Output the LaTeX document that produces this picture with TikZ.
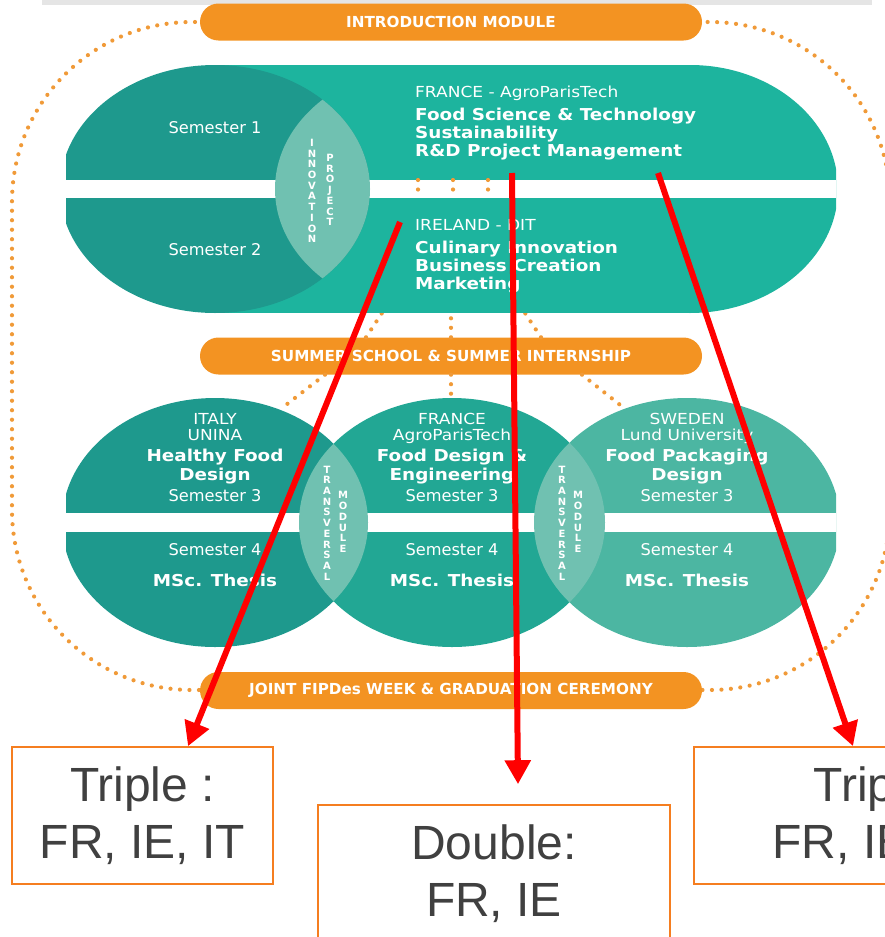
\documentclass[tikz,border=0pt]{standalone}
\usepackage{fontspec}
\setsansfont{DejaVu Sans}
\newfontfamily\widesans{DejaVu Sans}[FakeStretch=1.12]
\newfontfamily\boxfont{Liberation Sans}
\usepackage{tikz}
\usetikzlibrary{arrows.meta, positioning, calc}
\usepackage{xcolor}
\definecolor{pillorange}{HTML}{F39322}
\definecolor{dotorange}{HTML}{F09A38}
\definecolor{tealdark}{HTML}{1E998D}
\definecolor{tealmid}{HTML}{22A794}
\definecolor{teallight}{HTML}{1DB49E}
\definecolor{tealpale}{HTML}{4CB6A2}
\definecolor{lensteal}{HTML}{70C1B1}
\definecolor{boxedge}{HTML}{F57E20}
\definecolor{boxtext}{HTML}{404040}

\begin{document}
\begin{tikzpicture}[
    x=1pt, y=-1pt,
    pill/.style={fill=pillorange, rounded corners=18.5pt, minimum width=502pt, minimum height=37pt, inner sep=0pt, text=white, font=\sffamily\bfseries\fontsize{15.2}{17}\selectfont},
    dots/.style={draw=dotorange, line width=4.2pt, line cap=round, dash pattern=on 0pt off 9.5pt},
    txt/.style={text=white, inner sep=0pt, anchor=base},
    head/.style={txt, font=\widesans\fontsize{15.2}{17}\selectfont},
    big/.style={txt, font=\widesans\bfseries\fontsize{16.4}{18}\selectfont},
    sem/.style={txt, font=\sffamily\fontsize{16.2}{18}\selectfont},
    letters/.style={text=white, inner sep=0pt, align=center, font=\sffamily\bfseries\fontsize{10}{10.7}\selectfont},
    choice/.style={draw=boxedge, line width=1.6pt, fill=white, text=boxtext, align=center, inner sep=0pt, minimum height=137pt, font=\boxfont\fontsize{48}{57}\selectfont},
    arrow/.style={-{Triangle[length=24pt, width=25pt]}, red, line width=6pt}
]
\useasboundingbox (0,0) rectangle (885,937);
\clip (0,0) rectangle (885,937);

% Frame
\fill[black!10] (42,0) rectangle (872,4.5);
\draw[dots, rounded corners=180pt] (451,22) -| (12,690) -| (890,22) -- cycle;

% Pills
\node[pill] (intro) at (451,22) {INTRODUCTION MODULE};
\node[pill] (summer) at (451,356) {SUMMER SCHOOL \& SUMMER INTERNSHIP};
\node[pill] (joint) at (451,690.5) {JOINT FIPDes WEEK \& GRADUATION CEREMONY};

% Dotted links
\draw[dots] ([xshift=-85pt]summer.north) -- (382,313);
\draw[dots] (summer.north) -- (451,313);
\draw[dots] ([xshift=90pt]summer.north) -- (525,313);
\draw[dots] ([xshift=-126pt]summer.south) -- (282,408);
\draw[dots] (summer.south) -- (451,400);
\draw[dots] ([xshift=131pt]summer.south) -- (624,408);

% Shapes
\begin{scope}
  \clip (66,0) rectangle (836,937);
  % semesters 1-2
  \fill[teallight] (215,65) rectangle (690,313);
  \fill[teallight] (690,189) ellipse [x radius=148, y radius=124];
  \fill[tealdark] (215,189) ellipse [x radius=155, y radius=124];
  \fill[white] (66,179.5) rectangle (836,198);
  \begin{scope}
    \clip (215,189) ellipse [x radius=155, y radius=124];
    \fill[lensteal] (430,189) ellipse [x radius=155, y radius=124];
  \end{scope}
  % semesters 3-4
  \fill[tealdark] (215,522.5) ellipse [x radius=153, y radius=124.5];
  \fill[tealmid] (452,522.5) ellipse [x radius=153, y radius=124.5];
  \fill[tealpale] (687,522.5) ellipse [x radius=153, y radius=124.5];
  \fill[white] (66,513) rectangle (836,532);
  \begin{scope}
    \clip (215,522.5) ellipse [x radius=153, y radius=124.5];
    \fill[lensteal] (452,522.5) ellipse [x radius=153, y radius=124.5];
  \end{scope}
  \begin{scope}
    \clip (452,522.5) ellipse [x radius=153, y radius=124.5];
    \fill[lensteal] (687,522.5) ellipse [x radius=153, y radius=124.5];
  \end{scope}
\end{scope}
\foreach \x in {418,453,488} \draw[dots] (\x,180) -- (\x,197);

% Nodes
\node[sem] (sem1) at (215,133.5) {Semester 1};
\node[sem] (sem2) at (215,255.5) {Semester 2};
\node[letters] (innov) at (312,191) {I\\N\\N\\O\\V\\A\\T\\I\\O\\N};
\node[letters] (proj) at (330,190) {P\\R\\O\\J\\E\\C\\T};

\node[head, anchor=base west] (frHead) at (415,97.5) {FRANCE - AgroParisTech};
\node[big, anchor=base west] (frOne) at (415,120.5) {Food Science \& Technology};
\node[big, anchor=base west] (frTwo) at (415,138.5) {Sustainability};
\node[big, anchor=base west] (frThree) at (415,156.7) {R\&D Project Management};
\node[head, anchor=base west] (ieHead) at (415,230.7) {IRELAND - DIT};
\node[big, anchor=base west] (ieOne) at (415,253.3) {Culinary Innovation};
\node[big, anchor=base west] (ieTwo) at (415,271.7) {Business Creation};
\node[big, anchor=base west] (ieThree) at (415,289.3) {Marketing};

\node[head] (itHead) at (215,424.3) {ITALY};
\node[head] (itUni) at (215,440) {UNINA};
\node[big] (itOne) at (215,461.7) {Healthy Food};
\node[big] (itTwo) at (215,480) {Design};
\node[sem] (itSemA) at (215,501) {Semester 3};
\node[sem] (itSemB) at (215,555.7) {Semester 4};
\node[big] (itThesis) at (215,586) {MSc. Thesis};

\node[head] (frcHead) at (452,424.3) {FRANCE};
\node[head] (frcUni) at (452,440) {AgroParisTech};
\node[big] (frcOne) at (452,461.7) {Food Design \&};
\node[big] (frcTwo) at (452,480) {Engineering};
\node[sem] (frcSemA) at (452,501) {Semester 3};
\node[sem] (frcSemB) at (452,555.7) {Semester 4};
\node[big] (frcThesis) at (452,586) {MSc. Thesis};

\node[head] (seHead) at (687,424.3) {SWEDEN};
\node[head] (seUni) at (687,440) {Lund University};
\node[big] (seOne) at (687,461.7) {Food Packaging};
\node[big] (seTwo) at (687,480) {Design};
\node[sem] (seSemA) at (687,501) {Semester 3};
\node[sem] (seSemB) at (687,555.7) {Semester 4};
\node[big] (seThesis) at (687,586) {MSc. Thesis};

\node[letters] (transL) at (327,523) {T\\R\\A\\N\\S\\V\\E\\R\\S\\A\\L};
\node[letters] (modL) at (343,522) {M\\O\\D\\U\\L\\E};
\node[letters] (transR) at (562,523) {T\\R\\A\\N\\S\\V\\E\\R\\S\\A\\L};
\node[letters] (modR) at (578,522) {M\\O\\D\\U\\L\\E};

\node[choice, minimum width=261pt] (triLeft) at (142.5,815.5) {Triple :\\FR, IE, IT};
\node[choice, minimum width=352pt] (dbl) at (494,873.5) {Double:\\FR, IE};
\node[choice, minimum width=384pt] (triRight) at (886,815.5) {Triple :\\FR, IE, SE};

% Arrows
\coordinate (fromIE) at (400,222);
\coordinate (fromFR) at (512,173);
\coordinate (fromMgmt) at (658,173);
\draw[arrow] (fromIE) -- ([xshift=45.5pt]triLeft.north);
\draw[arrow] (fromFR) -- ([xshift=24pt,yshift=20pt]dbl.north);
\draw[arrow] (fromMgmt) -- ([xshift=-33pt]triRight.north);

\end{tikzpicture}
\end{document}
